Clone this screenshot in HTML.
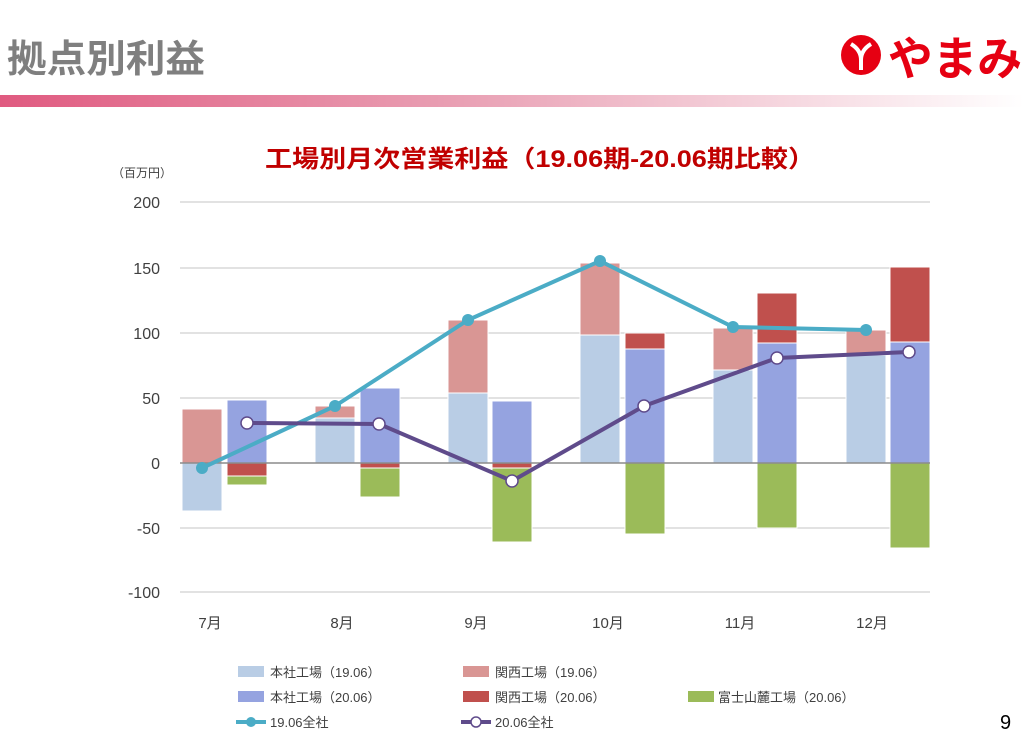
<!DOCTYPE html>
<html><head><meta charset="utf-8"><style>
body{margin:0;width:1024px;height:751px;background:#fff;overflow:hidden;font-family:"Liberation Sans","Noto Sans CJK JP",sans-serif;}
</style></head><body>
<svg width="1024" height="751" xmlns="http://www.w3.org/2000/svg" style="position:absolute;left:0;top:0">
<defs><linearGradient id="g" x1="0" x2="1"><stop offset="0" stop-color="#e05a80"/><stop offset="0.45" stop-color="#e9a0b4"/><stop offset="1" stop-color="#ffffff"/></linearGradient></defs>
<text x="7" y="72" font-size="38" font-weight="bold" fill="#7f7f7f" textLength="198" lengthAdjust="spacingAndGlyphs" font-family="Noto Sans CJK JP,sans-serif">拠点別利益</text>
<rect x="0" y="95" width="1024" height="12" fill="url(#g)"/>
<circle cx="861" cy="55" r="20" fill="#e60012"/>
<path d="M851 44 Q861 50 861 60 M871 44 Q861 50 861 60 M861 60 L861 70" stroke="#fff" stroke-width="4" fill="none"/>
<text x="888" y="75" font-size="46" font-weight="bold" fill="#e60012" textLength="134" lengthAdjust="spacingAndGlyphs" font-family="Noto Sans CJK JP,sans-serif">やまみ</text>
<text x="265" y="167" font-size="24" font-weight="bold" fill="#c00000" textLength="550" lengthAdjust="spacingAndGlyphs" font-family="Liberation Sans,Noto Sans CJK JP,sans-serif">工場別月次営業利益（19.06期-20.06期比較）</text>
<text x="112" y="177" font-size="12" fill="#404040" font-family="Noto Sans CJK JP,sans-serif">（百万円）</text>
<g stroke="#d9d9d9" stroke-width="1.5">
<line x1="180" x2="930" y1="202" y2="202"/><line x1="180" x2="930" y1="268" y2="268"/><line x1="180" x2="930" y1="333" y2="333"/><line x1="180" x2="930" y1="398" y2="398"/><line x1="180" x2="930" y1="528" y2="528"/><line x1="180" x2="930" y1="592" y2="592"/>
</g>
<g font-size="16" fill="#404040" text-anchor="end">
<text x="160" y="208">200</text><text x="160" y="274">150</text><text x="160" y="339">100</text><text x="160" y="404">50</text><text x="160" y="469">0</text><text x="160" y="534">-50</text><text x="160" y="598">-100</text>
</g>
<g stroke="#fff" stroke-width="1">
<rect x="182" y="463" width="40" height="48" fill="#b9cde5"/><rect x="182" y="409" width="40" height="54" fill="#d99694"/>
<rect x="227" y="400" width="40" height="63" fill="#95a3e0"/><rect x="227" y="463" width="40" height="13" fill="#c0504d"/><rect x="227" y="476" width="40" height="9" fill="#9bbb59"/>
<rect x="315" y="418" width="40" height="45" fill="#b9cde5"/><rect x="315" y="406" width="40" height="12" fill="#d99694"/>
<rect x="360" y="388" width="40" height="75" fill="#95a3e0"/><rect x="360" y="463" width="40" height="5" fill="#c0504d"/><rect x="360" y="468" width="40" height="29" fill="#9bbb59"/>
<rect x="448" y="393" width="40" height="70" fill="#b9cde5"/><rect x="448" y="320" width="40" height="73" fill="#d99694"/>
<rect x="492" y="401" width="40" height="62" fill="#95a3e0"/><rect x="492" y="463" width="40" height="5" fill="#c0504d"/><rect x="492" y="468" width="40" height="74" fill="#9bbb59"/>
<rect x="580" y="335" width="40" height="128" fill="#b9cde5"/><rect x="580" y="263" width="40" height="72" fill="#d99694"/>
<rect x="625" y="349" width="40" height="114" fill="#95a3e0"/><rect x="625" y="333" width="40" height="16" fill="#c0504d"/><rect x="625" y="463" width="40" height="71" fill="#9bbb59"/>
<rect x="713" y="370" width="40" height="93" fill="#b9cde5"/><rect x="713" y="328" width="40" height="42" fill="#d99694"/>
<rect x="757" y="343" width="40" height="120" fill="#95a3e0"/><rect x="757" y="293" width="40" height="50" fill="#c0504d"/><rect x="757" y="463" width="40" height="65" fill="#9bbb59"/>
<rect x="846" y="355" width="40" height="108" fill="#b9cde5"/><rect x="846" y="330" width="40" height="25" fill="#d99694"/>
<rect x="890" y="342" width="40" height="121" fill="#95a3e0"/><rect x="890" y="267" width="40" height="75" fill="#c0504d"/><rect x="890" y="463" width="40" height="85" fill="#9bbb59"/>
</g>
<line x1="180" x2="930" y1="463" y2="463" stroke="#8c8c8c" stroke-width="1.5"/>
<polyline points="202,468 335,406 468,320 600,261 733,327 866,330" fill="none" stroke="#4bacc6" stroke-width="4"/>
<g fill="#4bacc6"><circle cx="202" cy="468" r="6"/><circle cx="335" cy="406" r="6"/><circle cx="468" cy="320" r="6"/><circle cx="600" cy="261" r="6"/><circle cx="733" cy="327" r="6"/><circle cx="866" cy="330" r="6"/></g>
<polyline points="247,423 379,424 512,481 644,406 777,358 909,352" fill="none" stroke="#5f4b8b" stroke-width="4"/>
<g fill="#fff" stroke="#5f4b8b" stroke-width="1.5"><circle cx="247" cy="423" r="6"/><circle cx="379" cy="424" r="6"/><circle cx="512" cy="481" r="6"/><circle cx="644" cy="406" r="6"/><circle cx="777" cy="358" r="6"/><circle cx="909" cy="352" r="6"/></g>
<g font-size="15" fill="#404040" text-anchor="middle" font-family="Liberation Sans,Noto Sans CJK JP,sans-serif">
<text x="210" y="628">7月</text><text x="342" y="628">8月</text><text x="476" y="628">9月</text><text x="608" y="628">10月</text><text x="740" y="628">11月</text><text x="872" y="628">12月</text>
</g>
<g font-size="13" fill="#404040" font-family="Liberation Sans,Noto Sans CJK JP,sans-serif">
<rect x="238" y="666" width="26" height="11" fill="#b9cde5"/><text x="270" y="677">本社工場（19.06）</text>
<rect x="463" y="666" width="26" height="11" fill="#d99694"/><text x="495" y="677">関西工場（19.06）</text>
<rect x="238" y="691" width="26" height="11" fill="#95a3e0"/><text x="270" y="702">本社工場（20.06）</text>
<rect x="463" y="691" width="26" height="11" fill="#c0504d"/><text x="495" y="702">関西工場（20.06）</text>
<rect x="688" y="691" width="26" height="11" fill="#9bbb59"/><text x="718" y="702">富士山麓工場（20.06）</text>
<line x1="236" x2="266" y1="722" y2="722" stroke="#4bacc6" stroke-width="4"/><circle cx="251" cy="722" r="5" fill="#4bacc6"/><text x="270" y="727">19.06全社</text>
<line x1="461" x2="491" y1="722" y2="722" stroke="#5f4b8b" stroke-width="4"/><circle cx="476" cy="722" r="5" fill="#fff" stroke="#5f4b8b" stroke-width="1.5"/><text x="495" y="727">20.06全社</text>
</g>
<text x="1000" y="729" font-size="20" fill="#000">9</text>
</svg>
</body></html>
